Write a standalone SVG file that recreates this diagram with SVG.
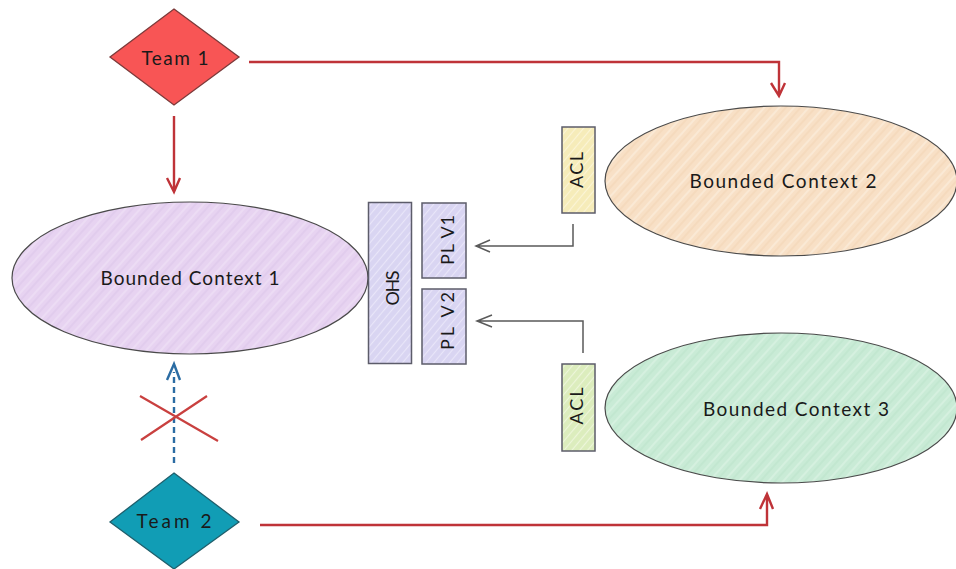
<svg xmlns="http://www.w3.org/2000/svg" width="956" height="569" viewBox="0 0 956 569">
<style>
text{font-family:"Lato","Liberation Sans",sans-serif;fill:#1a1a1a;text-anchor:middle;dominant-baseline:central}
.lbl{font-size:19px}
.sm{font-size:18px}
.shape{stroke:#4a4a4a;stroke-width:1.2}
.box{stroke:#5c5c6a;stroke-width:1.5}
.red{fill:none;stroke:#bf3338;stroke-width:2.4}
.gray{fill:none;stroke:#5a5a5a;stroke-width:1.5}
</style>
<defs>
<pattern id="hP" width="11" height="11" patternUnits="userSpaceOnUse" patternTransform="rotate(-48)"><rect width="11" height="11" fill="#e7d3f1"/><path d="M0 2H11" stroke="#f0e3f7" stroke-width="1.2"/><path d="M0 7H11" stroke="#dcc5e9" stroke-width="1"/></pattern>
<pattern id="hO" width="11" height="11" patternUnits="userSpaceOnUse" patternTransform="rotate(-48)"><rect width="11" height="11" fill="#f8e0c6"/><path d="M0 2H11" stroke="#fcefdf" stroke-width="1.2"/><path d="M0 7H11" stroke="#f2d5b5" stroke-width="1"/></pattern>
<pattern id="hG" width="11" height="11" patternUnits="userSpaceOnUse" patternTransform="rotate(-48)"><rect width="11" height="11" fill="#c9ebd6"/><path d="M0 2H11" stroke="#def4e6" stroke-width="1.2"/><path d="M0 7H11" stroke="#bbe3cb" stroke-width="1"/></pattern>
<pattern id="hV" width="6" height="6" patternUnits="userSpaceOnUse" patternTransform="rotate(-50)"><rect width="6" height="6" fill="#d9d5f2"/><path d="M0 1.5H6" stroke="#e9e6f9" stroke-width="1.2"/></pattern>
<pattern id="hY" width="6" height="6" patternUnits="userSpaceOnUse" patternTransform="rotate(-50)"><rect width="6" height="6" fill="#f6ecb9"/><path d="M0 1.5H6" stroke="#fbf5d6" stroke-width="1.2"/></pattern>
<pattern id="hL" width="6" height="6" patternUnits="userSpaceOnUse" patternTransform="rotate(-50)"><rect width="6" height="6" fill="#dcedbd"/><path d="M0 1.5H6" stroke="#edf6da" stroke-width="1.2"/></pattern>
</defs>
<rect width="956" height="569" fill="#fff"/>
<g id="connectors">
<path class="red" d="M249 62H779V96M771 83L779 96L785 83"/>
<path class="red" d="M174 116V192M167 178L174 192L180 178"/>
<path class="red" d="M260 525H767V494M760 509L767 494L773 509"/>
<path class="gray" d="M573 224V246H476M490 240L476 246L490 252"/>
<path class="gray" d="M583 353V321H477M492 315L477 321L492 327"/>
<path d="M174 463V372" fill="none" stroke="#2b6ca3" stroke-width="2.4" stroke-dasharray="6 4"/>
<path d="M167 380L174 364L180 380" fill="none" stroke="#2b6ca3" stroke-width="2.4"/>
<path d="M141 440L207 396M140 396L218 441" fill="none" stroke="#c9403f" stroke-width="2.2"/>
</g>
<g id="team1"><path d="M174 9L239 57L174 105L110 57Z" fill="#f85555" stroke="#7c3a3a" stroke-width="1.3"/><text class="lbl" x="175" y="57" textLength="67" lengthAdjust="spacing">Team 1</text></g>
<g id="team2"><path d="M174 473L239 522L174 569L110 522Z" fill="#119db5" stroke="#1f5f6c" stroke-width="1.3"/><text class="lbl" x="174" y="520" textLength="75" lengthAdjust="spacing">Team 2</text></g>
<g id="bc1"><ellipse class="shape" cx="190" cy="278" rx="178" ry="76" fill="url(#hP)"/><text class="lbl" x="190" y="277" textLength="179" lengthAdjust="spacing">Bounded Context 1</text></g>
<g id="bc2"><ellipse class="shape" cx="781" cy="181" rx="176" ry="75" fill="url(#hO)"/><text class="lbl" x="783" y="180" textLength="187" lengthAdjust="spacing">Bounded Context 2</text></g>
<g id="bc3"><ellipse class="shape" cx="781" cy="408" rx="176" ry="75" fill="url(#hG)"/><text class="lbl" x="796" y="408" textLength="186" lengthAdjust="spacing">Bounded Context 3</text></g>
<g id="ohs"><rect class="box" x="368.500" y="202.500" width="43" height="161" fill="url(#hV)"/><text class="sm" transform="translate(392 288) rotate(-90)" textLength="35" lengthAdjust="spacing">OHS</text></g>
<g id="plv1"><rect class="box" x="422" y="203" width="44" height="75" fill="url(#hV)"/><text class="sm" transform="translate(447 240) rotate(-90)" textLength="50" lengthAdjust="spacing">PL V1</text></g>
<g id="plv2"><rect class="box" x="422" y="289" width="44" height="75" fill="url(#hV)"/><text class="sm" transform="translate(447 321) rotate(-90)" textLength="58" lengthAdjust="spacing">PL V2</text></g>
<g id="acl1"><rect class="box" x="562" y="127" width="33" height="86" fill="url(#hY)"/><text class="sm" transform="translate(576 170) rotate(-90)" textLength="36" lengthAdjust="spacing">ACL</text></g>
<g id="acl2"><rect class="box" x="562" y="364" width="33" height="87" fill="url(#hL)"/><text class="sm" transform="translate(576 406) rotate(-90)" textLength="37" lengthAdjust="spacing">ACL</text></g>
</svg>
